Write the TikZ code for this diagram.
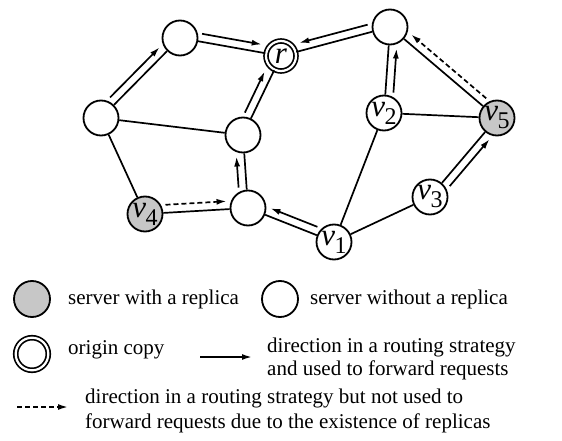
\documentclass[tikz,border=0pt]{standalone}
\usepackage{fontspec}
\setmainfont{Liberation Serif}
\usetikzlibrary{calc,arrows.meta}
\newcommand\vlab[1]{\fontsize{31}{31}\selectfont\textit{v}\kern-0.5pt\raisebox{-8pt}{\fontsize{24}{24}\selectfont #1}}
\newcommand\offd{8pt}
\newcommand\fwdleft[3][fwd]{\draw[#1] ($(#2)!\offd!90:(#3)$) -- ($(#3)!\offd!-90:(#2)$);}
\newcommand\fwdright[3][fwd]{\draw[#1] ($(#2)!\offd!-90:(#3)$) -- ($(#3)!\offd!90:(#2)$);}
\tikzset{
 srv/.style={circle, draw, line width=1.8pt, minimum size=35pt, inner sep=0pt, fill=white},
 rep/.style={srv, fill=black!22},
 orig/.style={circle, draw, line width=1.7pt, double=white, double distance=2.2pt, minimum size=30pt, inner sep=0pt},
 edge/.style={line width=1.7pt},
 fwd/.style={line width=1.7pt, -{Latex[length=10pt,width=6pt]}, shorten <=21pt, shorten >=21pt},
 nfwd/.style={fwd, dash pattern=on 5pt off 3pt},
 legarrow/.style={line width=1.7pt, -{Latex[length=10pt,width=6pt]}},
 legdash/.style={legarrow, dash pattern=on 5pt off 3pt},
 lbl/.style={font=\fontsize{21}{21}\selectfont, inner sep=0pt, anchor=base west},
}
\begin{document}
\begin{tikzpicture}[x=1pt,y=-1pt]
\useasboundingbox (0,0) rectangle (562,441);
% graph nodes
\node[srv] (A) at (180,38) {};
\node[orig] (r) at (281,56) {\fontsize{31}{31}\selectfont\textit{r}};
\node[srv] (T) at (390,27) {};
\node[srv] (L) at (101,118) {};
\node[srv] (M) at (243,135) {};
\node[srv] (v2) at (384,113) {\vlab{2}};
\node[rep] (v5) at (497,118) {\vlab{5}};
\node[rep] (v4) at (145,214) {\vlab{4}};
\node[srv] (B) at (248,208) {};
\node[srv] (v1) at (334,242) {\vlab{1}};
\node[srv] (v3) at (430,197) {\vlab{3}};
% links
\draw[edge] (A)--(r) (T)--(r) (L)--(A) (L)--(M) (L)--(v4) (M)--(r)
  (B)--(M) (v4)--(B) (v1)--(B) (v1)--(v2) (v1)--(v3) (v2)--(T)
  (v2)--(v5) (v3)--(v5) (v5)--(T);
% routing directions
\fwdleft{A}{r}
\fwdleft{L}{A}
\fwdleft{M}{r}
\fwdleft{B}{M}
\fwdleft[nfwd]{v4}{B}
\fwdright{T}{r}
\fwdright{v1}{B}
\fwdright{v2}{T}
\fwdright{v3}{v5}
\fwdright[nfwd]{v5}{T}
% legend
\node[rep, minimum size=36pt] (g1) at (32,299) {};
\node[lbl] (t1) at (68,304) {server with a replica};
\node[srv, minimum size=36pt] (g2) at (280,299) {};
\node[lbl] (t2) at (310,304) {server without a replica};
\node[orig, minimum size=32.6pt] (g3) at (32,354) {};
\node[lbl] (t3) at (68,354) {origin copy};
\coordinate (s1) at (200,357);
\coordinate (s2) at (252,357);
\draw[legarrow] (s1) -- (s2);
\node[lbl] (t4) at (267,352) {direction in a routing strategy};
\node[lbl] (t5) at (267,375) {and used to forward requests};
\coordinate (d1) at (17,407);
\coordinate (d2) at (68,407);
\draw[legdash] (d1) -- (d2);
\node[lbl] (t6) at (85,403) {direction in a routing strategy but not used to};
\node[lbl] (t7) at (85,428) {forward requests due to the existence of replicas};
\end{tikzpicture}
\end{document}
